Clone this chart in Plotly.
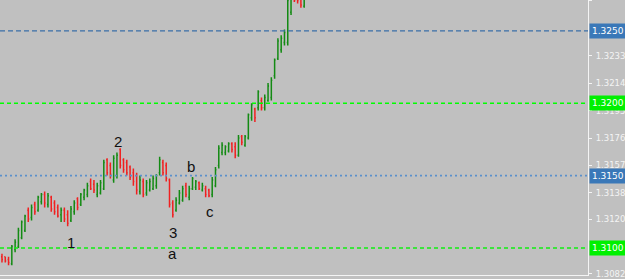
import plotly.graph_objects as go

# OHLC bars (price), one per bar slot
opens = [1.3094, 1.3094, 1.3092, 1.3089, 1.3099, 1.3101, 1.3107, 1.3112, 1.3126, 1.3121,
         1.3130, 1.3126, 1.3132, 1.3137, 1.3130, 1.3135, 1.3131, 1.3128, 1.3123, 1.3126,
         1.3123, 1.3119, 1.3125, 1.3134, 1.3130, 1.3135, 1.3137, 1.3146, 1.3144, 1.3137,
         1.3138, 1.3141, 1.3161, 1.3157, 1.3147, 1.3150, 1.3168, 1.3161, 1.3159, 1.3156,
         1.3152, 1.3150, 1.3139, 1.3146, 1.3138, 1.3140, 1.3141, 1.3143, 1.3152, 1.3159,
         1.3157, 1.3147, 1.3131, 1.3126, 1.3131, 1.3133, 1.3143, 1.3135, 1.3141, 1.3142,
         1.3145, 1.3140, 1.3141, 1.3140, 1.3137, 1.3143, 1.3157, 1.3166, 1.3166, 1.3167,
         1.3172, 1.3170, 1.3164, 1.3177, 1.3171, 1.3176, 1.3190, 1.3196, 1.3197, 1.3202,
         1.3197, 1.3202, 1.3204, 1.3219, 1.3231, 1.3237, 1.3242, 1.3242, 1.3263, 1.3277,
         1.3275, 1.3274, 1.3267]
highs = [1.3096, 1.3094, 1.3094, 1.3102, 1.3106, 1.3114, 1.3119, 1.3123, 1.3128, 1.3130,
         1.3132, 1.3136, 1.3138, 1.3139, 1.3138, 1.3136, 1.3133, 1.3130, 1.3128, 1.3128,
         1.3126, 1.3129, 1.3133, 1.3135, 1.3138, 1.3141, 1.3145, 1.3148, 1.3147, 1.3145,
         1.3147, 1.3161, 1.3162, 1.3159, 1.3164, 1.3166, 1.3169, 1.3162, 1.3161, 1.3157,
         1.3155, 1.3152, 1.3150, 1.3148, 1.3147, 1.3148, 1.3150, 1.3151, 1.3163, 1.3161,
         1.3159, 1.3148, 1.3133, 1.3135, 1.3140, 1.3143, 1.3145, 1.3143, 1.3149, 1.3147,
         1.3146, 1.3145, 1.3143, 1.3141, 1.3149, 1.3156, 1.3171, 1.3173, 1.3171, 1.3173,
         1.3173, 1.3173, 1.3178, 1.3178, 1.3178, 1.3193, 1.3200, 1.3197, 1.3209, 1.3204,
         1.3206, 1.3214, 1.3218, 1.3231, 1.3245, 1.3247, 1.3251, 1.3275, 1.3277, 1.3278,
         1.3277, 1.3275, 1.3274]
lows = [1.3090, 1.3090, 1.3088, 1.3088, 1.3097, 1.3100, 1.3106, 1.3111, 1.3118, 1.3119,
        1.3123, 1.3125, 1.3130, 1.3128, 1.3128, 1.3125, 1.3123, 1.3121, 1.3118, 1.3118,
        1.3115, 1.3118, 1.3123, 1.3126, 1.3129, 1.3133, 1.3135, 1.3140, 1.3138, 1.3135,
        1.3137, 1.3140, 1.3150, 1.3148, 1.3145, 1.3148, 1.3155, 1.3152, 1.3150, 1.3147,
        1.3143, 1.3137, 1.3137, 1.3135, 1.3136, 1.3139, 1.3140, 1.3141, 1.3150, 1.3150,
        1.3146, 1.3128, 1.3121, 1.3125, 1.3130, 1.3132, 1.3135, 1.3133, 1.3140, 1.3140,
        1.3140, 1.3139, 1.3135, 1.3135, 1.3135, 1.3142, 1.3155, 1.3164, 1.3164, 1.3166,
        1.3166, 1.3162, 1.3163, 1.3171, 1.3170, 1.3175, 1.3188, 1.3187, 1.3195, 1.3195,
        1.3195, 1.3201, 1.3202, 1.3217, 1.3230, 1.3235, 1.3240, 1.3240, 1.3261, 1.3270,
        1.3269, 1.3266, 1.3266]
closes = [1.3092, 1.3091, 1.3090, 1.3101, 1.3104, 1.3112, 1.3118, 1.3122, 1.3120, 1.3128,
          1.3125, 1.3135, 1.3137, 1.3131, 1.3136, 1.3127, 1.3125, 1.3122, 1.3126, 1.3120,
          1.3117, 1.3127, 1.3131, 1.3128, 1.3137, 1.3140, 1.3143, 1.3141, 1.3140, 1.3143,
          1.3145, 1.3159, 1.3152, 1.3151, 1.3162, 1.3164, 1.3157, 1.3154, 1.3152, 1.3149,
          1.3146, 1.3140, 1.3147, 1.3137, 1.3145, 1.3146, 1.3148, 1.3150, 1.3161, 1.3152,
          1.3148, 1.3130, 1.3123, 1.3133, 1.3138, 1.3141, 1.3137, 1.3141, 1.3148, 1.3146,
          1.3141, 1.3143, 1.3137, 1.3136, 1.3147, 1.3154, 1.3169, 1.3171, 1.3170, 1.3172,
          1.3168, 1.3164, 1.3176, 1.3173, 1.3177, 1.3192, 1.3199, 1.3190, 1.3208, 1.3197,
          1.3204, 1.3212, 1.3216, 1.3230, 1.3243, 1.3245, 1.3249, 1.3271, 1.3275, 1.3271,
          1.3271, 1.3268, 1.3273]
bar_index = list(range(len(opens)))

# right price scale
tick_values = [1.3271, 1.3233, 1.3214, 1.3195, 1.3176, 1.3157, 1.3138, 1.3120, 1.3082]
tick_labels = ["1.3271", "1.3233", "1.3214", "1.3195", "1.3176", "1.3157", "1.3138", "1.3120", "1.3082"]

# horizontal levels
level_prices = [1.3250, 1.3200, 1.3150, 1.3100]
level_labels = ["1.3250", "1.3200", "1.3150", "1.3100"]
level_colors = ["#3a6fa8", "#00ff00", "#5a90cc", "#11ee11"]
level_box_colors = ["#3a78b8", "#00f000", "#3a78b8", "#00f000"]
level_dashes = ["5px,3px", "4px,3px", "2px,3px", "4px,3px"]
level_widths = [1.2, 1.6, 1.6, 1.5]

# wave labels
wave_text = ["1", "2", "3", "a", "b", "c"]
wave_x = [21.1, 35.4, 52.0, 52.0, 57.4, 63.4]
wave_y = [1.31035, 1.31735, 1.31110, 1.30965, 1.31560, 1.31255]

BG = "#c0c0c0"

fig = go.Figure()
fig.add_trace(go.Ohlc(
    x=bar_index, open=opens, high=highs, low=lows, close=closes,
    increasing=dict(line=dict(color="#138a13", width=1.5)),
    decreasing=dict(line=dict(color="#f02020", width=1.5)),
    tickwidth=0.3, hoverinfo="skip", showlegend=False,
))

for p, c, d, w in zip(level_prices, level_colors, level_dashes, level_widths):
    fig.add_shape(type="line", xref="paper", x0=0, x1=1, yref="y", y0=p, y1=p,
                  line=dict(color=c, width=w, dash=d), layer="above")

for p, t, bc in zip(level_prices, level_labels, level_box_colors):
    fig.add_annotation(xref="paper", x=1.0, xanchor="left", yref="y", y=p,
                       text=t, showarrow=False, bgcolor=bc, borderpad=2,
                       font=dict(family="DejaVu Sans", size=9, color="#ffffff"),
                       xshift=1)

for t, x, y in zip(wave_text, wave_x, wave_y):
    fig.add_annotation(x=x, y=y, text=t, showarrow=False,
                       font=dict(family="Liberation Sans, Arial", size=15, color="#111111"))

fig.update_layout(
    width=625, height=279,
    margin=dict(l=0, r=29, t=0, b=4),
    paper_bgcolor=BG, plot_bgcolor=BG,
    showlegend=False,
    xaxis=dict(range=[-0.6, 178.4], showgrid=False, zeroline=False,
               showticklabels=False, ticks="", rangeslider=dict(visible=False),
               showline=True, linecolor="#f4f4f4", linewidth=1, mirror=False),
    yaxis=dict(range=[1.30813, 1.32714], side="right", showgrid=False, zeroline=False,
               tickmode="array", tickvals=tick_values, ticktext=tick_labels,
               ticks="outside", ticklen=3, tickcolor="#f4f4f4", ticklabelstandoff=2,
               tickfont=dict(family="DejaVu Sans", size=8.5, color="#f4f4f4"),
               showline=True, linecolor="#f4f4f4", linewidth=1),
)

fig.write_html("out.html")
